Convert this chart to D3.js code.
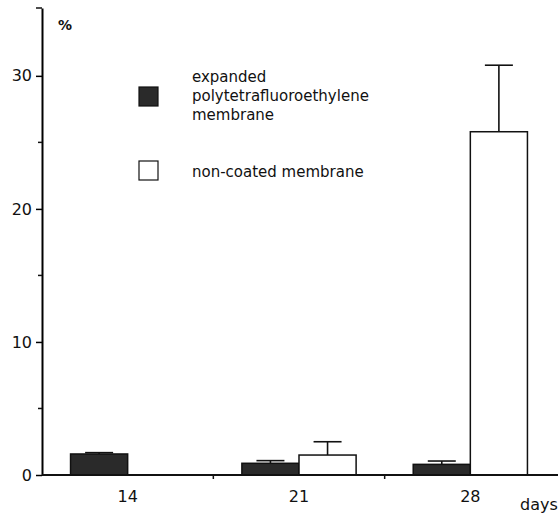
<!DOCTYPE html>
<html>
<head>
<meta charset="utf-8">
<script src="https://cdn.jsdelivr.net/npm/d3@7"></script>
<style>
body { margin: 0; background: #fff; }
svg { font-family: "DejaVu Sans", sans-serif; }
</style>
</head>
<body>
<svg width="558" height="514"></svg>
<script>
const days = ["14", "21", "28"]
const seriesNames = ["expanded polytetrafluoroethylene membrane", "non-coated membrane"]
const eptfeMean = [1.58, 0.88, 0.8]
const eptfeSd = [0.1, 0.2, 0.25]
const nonCoatedMean = [null, 1.5, 25.8]
const nonCoatedSd = [null, 1.0, 5.0]
const majorTicks = [0, 10, 20, 30]
const minorTicks = [5, 15, 25]

const svg = d3.select("svg")

const x = d3.scaleBand()
    .domain(days)
    .range([42, 556])
const y = d3.scaleLinear()
    .domain([0, 35.1])
    .range([475, 8])

const barW = x.bandwidth() / 3

const bars = []
days.forEach((d, i) => {
    bars.push({day: d, s: 0, v: eptfeMean[i], sd: eptfeSd[i]})
    if (nonCoatedMean[i] != null) bars.push({day: d, s: 1, v: nonCoatedMean[i], sd: nonCoatedSd[i]})
})

const xOf = d => x(d.day) + x.bandwidth() / 2 - barW + d.s * barW

// error bars
const err = svg.append("g").attr("stroke", "#111").attr("stroke-width", 1.6)
err.selectAll("line.v").data(bars).enter().append("line")
    .attr("x1", d => xOf(d) + barW / 2).attr("x2", d => xOf(d) + barW / 2)
    .attr("y1", d => y(d.v)).attr("y2", d => y(d.v + d.sd))
err.selectAll("line.c").data(bars).enter().append("line")
    .attr("x1", d => xOf(d) + barW / 2 - 14).attr("x2", d => xOf(d) + barW / 2 + 14)
    .attr("y1", d => y(d.v + d.sd)).attr("y2", d => y(d.v + d.sd))

svg.append("g").selectAll("rect").data(bars).enter().append("rect")
    .attr("x", d => xOf(d))
    .attr("y", d => y(d.v))
    .attr("width", barW)
    .attr("height", d => y(0) - y(d.v))
    .attr("fill", d => d.s == 0 ? "#2a2a2a" : "#fff")
    .attr("stroke", "#111")
    .attr("stroke-width", 1.5)

// y axis
const axisY = svg.append("g")
    .attr("transform", `translate(42,0)`)
    .call(d3.axisLeft(y).tickValues(majorTicks).tickSize(6).tickSizeOuter(0).tickPadding(4))
axisY.select(".domain").attr("stroke-width", 2)
axisY.selectAll(".tick line").attr("stroke-width", 1.5)
axisY.selectAll("text").attr("font-size", 16).attr("font-family", "DejaVu Sans").attr("fill", "#111")
svg.append("g").selectAll("line").data(minorTicks).enter().append("line")
    .attr("x1", 38).attr("x2", 42)
    .attr("y1", d => y(d)).attr("y2", d => y(d))
    .attr("stroke", "#111").attr("stroke-width", 1.5)
svg.append("line").attr("x1", 36).attr("x2", 42).attr("y1", 8).attr("y2", 8)
    .attr("stroke", "#111").attr("stroke-width", 1.5)

// x axis
svg.append("line")
    .attr("x1", 42).attr("x2", 558).attr("y1", y(0)).attr("y2", y(0))
    .attr("stroke", "#111").attr("stroke-width", 2)
svg.append("g").selectAll("line").data(days.slice(1)).enter().append("line")
    .attr("x1", d => x(d)).attr("x2", d => x(d))
    .attr("y1", y(0)).attr("y2", y(0) + 4)
    .attr("stroke", "#111").attr("stroke-width", 1.5)
svg.append("g").selectAll("text").data(days).enter().append("text")
    .attr("x", d => x(d) + x.bandwidth() / 2)
    .attr("y", 502)
    .attr("text-anchor", "middle")
    .attr("font-size", 16)
    .attr("fill", "#111")
    .text(d => d)

svg.append("text").attr("x", 520).attr("y", 510).attr("font-size", 16).attr("fill", "#111").text("days")
svg.append("text").attr("x", 58).attr("y", 30).attr("font-size", 14).attr("font-weight", "bold").attr("fill", "#111").text("%")

// legend
const legend = svg.append("g")
legend.append("rect").attr("x", 139).attr("y", 87).attr("width", 19).attr("height", 19)
    .attr("fill", "#2a2a2a").attr("stroke", "#111").attr("stroke-width", 1.2)
legend.append("rect").attr("x", 139).attr("y", 161).attr("width", 19).attr("height", 19)
    .attr("fill", "#fff").attr("stroke", "#111").attr("stroke-width", 1.2)
const t1 = legend.append("text").attr("x", 192).attr("y", 82).attr("font-size", 15).attr("fill", "#111")
;["expanded", "polytetrafluoroethylene", "membrane"].forEach((w, i) => {
    t1.append("tspan").attr("x", 192).attr("dy", i == 0 ? 0 : 19).text(w)
})
legend.append("text").attr("x", 192).attr("y", 177).attr("font-size", 15).attr("fill", "#111").text(seriesNames[1])
</script>
</body>
</html>
